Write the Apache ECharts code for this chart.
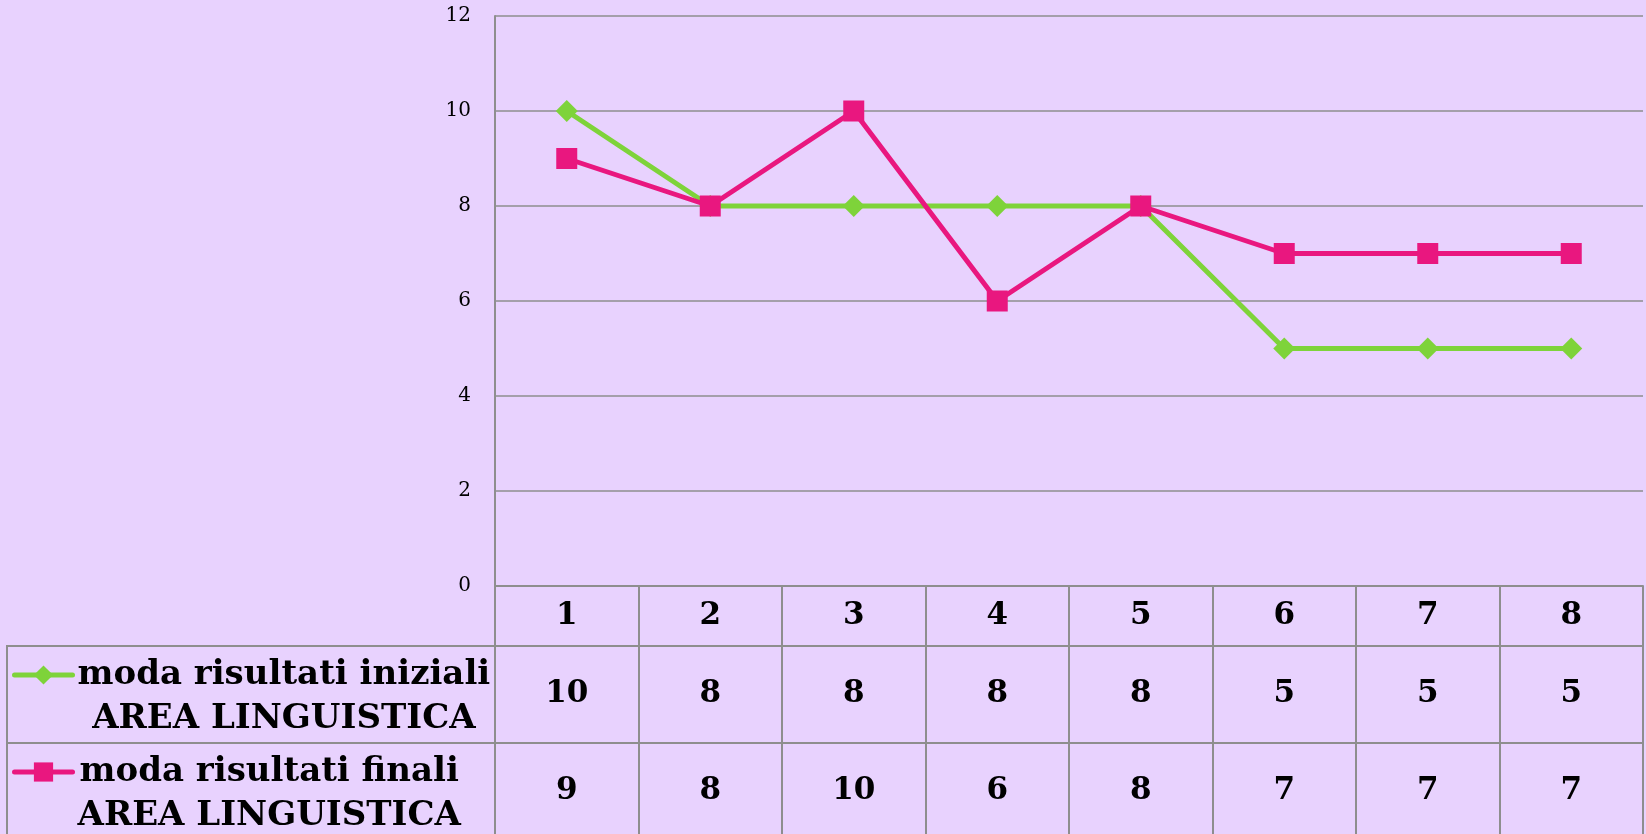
<!DOCTYPE html>
<html>
<head>
<meta charset="utf-8">
<style>
  html, body { margin: 0; padding: 0; background: #e8d2fe; }
  #chart { width: 1646px; height: 834px; }
</style>
<script src="https://cdn.jsdelivr.net/npm/echarts@6/dist/echarts.min.js"></script>
</head>
<body>
<div id="chart"></div>
<script>
// data
const categories = ["1", "2", "3", "4", "5", "6", "7", "8"];
const iniziali = [10, 8, 8, 8, 8, 5, 5, 5];
const finali = [9, 8, 10, 6, 8, 7, 7, 7];
const seriesNames = [
  "moda risultati iniziali\nAREA LINGUISTICA",
  "moda risultati finali\nAREA LINGUISTICA",
];
const colors = ["#7ed33a", "#e9177f"];

const gray = "#8e8e8e";
const serif = "DejaVu Serif";
const lineH = 44;

const chart = echarts.init(document.getElementById("chart"));

function tableAxis(values, offset, tickLen, margin) {
  return {
    type: "category",
    data: values.map(String),
    boundaryGap: true,
    position: "bottom",
    offset: offset,
    axisLine: { show: true, lineStyle: { color: gray, width: 2 } },
    axisTick: { show: true, interval: 0, length: tickLen, lineStyle: { color: gray, width: 2 } },
    axisLabel: {
      interval: 0,
      margin: margin,
      verticalAlign: "middle",
      color: "#000",
      fontFamily: serif,
      fontWeight: "bold",
      fontSize: 31,
    },
    splitLine: { show: false },
  };
}

function legendFor(i, top) {
  return {
    data: [seriesNames[i]],
    left: 12,
    top: top,
    padding: 0,
    itemWidth: 58,
    itemHeight: 24,
    lineStyle: { width: 5, cap: "round" },
    formatter: (name) => name.split("\n").map((s) => "{a|" + s + "}").join("\n"),
    textStyle: {
      padding: [lineH, 0, 0, 0],
      rich: {
        a: {
          align: "center",
          color: "#000",
          fontFamily: serif,
          fontWeight: "bold",
          fontSize: 34,
          lineHeight: lineH,
        },
      },
    },
  };
}

chart.setOption({
  backgroundColor: "#e8d2fe",
  animation: false,
  grid: { left: 495, right: 3, top: 16, bottom: 248, containLabel: false },
  legend: [legendFor(0, 670 - 12), legendFor(1, 767 - 12)],
  xAxis: [
    tableAxis(categories, 0, 60, 30),
    tableAxis(iniziali, 60, 97, 48),
    tableAxis(finali, 157, 100, 48),
  ],
  yAxis: {
    type: "value",
    min: 0,
    max: 12,
    interval: 2,
    axisLine: { show: true, lineStyle: { color: gray, width: 2 } },
    axisTick: { show: false },
    axisLabel: { margin: 24, color: "#000", fontFamily: serif, fontSize: 20 },
    splitLine: { lineStyle: { color: gray, width: 1.5 } },
  },
  graphic: [
    {
      type: "rect",
      shape: { x: 7, y: 646, width: 488, height: 97 },
      style: { fill: "none", stroke: gray, lineWidth: 2 },
    },
    {
      type: "rect",
      shape: { x: 7, y: 743, width: 488, height: 110 },
      style: { fill: "none", stroke: gray, lineWidth: 2 },
    },
  ],
  series: [
    {
      name: seriesNames[0],
      type: "line",
      xAxisIndex: 0,
      data: iniziali,
      symbol: "diamond",
      symbolSize: 22,
      lineStyle: { color: colors[0], width: 5 },
      itemStyle: { color: colors[0] },
    },
    {
      name: seriesNames[1],
      type: "line",
      xAxisIndex: 0,
      data: finali,
      symbol: "rect",
      symbolSize: 21,
      lineStyle: { color: colors[1], width: 5 },
      itemStyle: { color: colors[1] },
    },
  ],
});
</script>
</body>
</html>
